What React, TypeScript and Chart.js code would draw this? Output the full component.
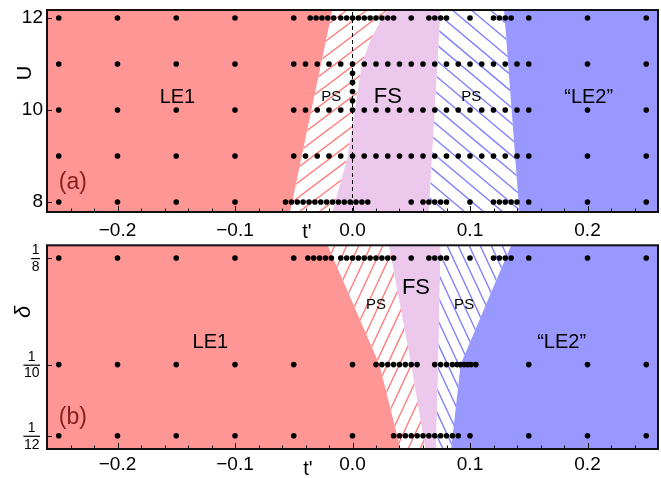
import React, { useEffect, useRef } from 'react';
import { Chart, registerables } from 'chart.js';

Chart.register(...registerables);

const FONT = '"Liberation Sans", Arial, Helvetica, sans-serif';

// ---------- shared x axis ----------
const tMin = -0.26;
const tMax = 0.26;
const xTicks = [-0.2, -0.1, 0.0, 0.1, 0.2];
const xTickLabels = ['\u22120.2', '\u22120.1', '0.0', '0.1', '0.2'];
const xMinorTicks = [-0.24, -0.22, -0.18, -0.16, -0.14, -0.12, -0.08, -0.06, -0.04, -0.02,
  0.02, 0.04, 0.06, 0.08, 0.12, 0.14, 0.16, 0.18, 0.22, 0.24];

// ---------- panel (a): U vs t' ----------
const aUMin = 7.783;
const aUMax = 12.174;
const aYTicks = [8, 10, 12];
const aYTickLabels = ['8', '10', '12'];

const aRow12 = [-0.25, -0.2, -0.15, -0.1, -0.05, -0.036, -0.031, -0.026, -0.021, -0.016,
  -0.01, -0.005, 0, 0.005, 0.01, 0.015, 0.02, 0.025, 0.03, 0.035,
  0.05, 0.065, 0.07, 0.075, 0.08, 0.1, 0.12, 0.125, 0.13, 0.135, 0.15, 0.2, 0.25];
const aRow11 = [-0.25, -0.2, -0.15, -0.1, -0.05, -0.04, -0.03, -0.02, -0.01, 0, 0.01, 0.02,
  0.03, 0.04, 0.05, 0.06, 0.07, 0.08, 0.09, 0.1, 0.11, 0.12, 0.13, 0.14, 0.15, 0.2, 0.25];
const aRow10 = [-0.25, -0.2, -0.15, -0.1, -0.05, -0.04, -0.03, -0.02, -0.01, 0, 0.01, 0.02,
  0.03, 0.04, 0.05, 0.06, 0.07, 0.08, 0.09, 0.1, 0.11, 0.12, 0.13, 0.14, 0.15, 0.2, 0.25];
const aRow9 = [-0.25, -0.2, -0.15, -0.1, -0.05, -0.04, -0.03, -0.02, -0.01, 0, 0.01, 0.02,
  0.03, 0.04, 0.05, 0.06, 0.07, 0.08, 0.09, 0.1, 0.11, 0.12, 0.13, 0.14, 0.15, 0.2, 0.25];
const aRow8 = [-0.25, -0.2, -0.15, -0.1, -0.057, -0.052, -0.047, -0.042, -0.037, -0.032,
  -0.027, -0.022, -0.017, -0.012, -0.007, -0.002, 0.003, 0.008, 0.013,
  0.05, 0.06, 0.065, 0.07, 0.075, 0.08, 0.1, 0.12, 0.125, 0.13, 0.135, 0.14, 0.15, 0.2, 0.25];
const aCol0U = [10.2, 10.4, 10.6, 10.8];
const aDashT = 0;

// phase boundaries [t', U]
const aLE1Edge = [[-0.053, 7.783], [-0.017, 12.174]];
const aFSLeft = [[-0.017, 7.783], [-0.004, 9], [0.002, 10], [0.008, 11], [0.015, 11.5], [0.025, 12], [0.03, 12.174]];
const aFSRight = [[0.065, 7.783], [0.075, 12.174]];
const aLE2Edge = [[0.142, 7.783], [0.129, 12.174]];

// ---------- panel (b): delta vs t' ----------
const bDMin = 0.08021;
const bDMax = 0.12798;
const bYTicks = [1 / 12, 1 / 10, 1 / 8];
const bYTickNum = ['1', '1', '1'];
const bYTickDen = ['12', '10', '8'];

const bRow8 = [-0.25, -0.2, -0.15, -0.1, -0.05, -0.038, -0.033, -0.028, -0.023, -0.018,
  -0.01, -0.005, 0, 0.005, 0.01, 0.015, 0.02, 0.025, 0.03, 0.035,
  0.05, 0.065, 0.07, 0.075, 0.08, 0.1, 0.12, 0.125, 0.13, 0.135, 0.15, 0.2, 0.25];
const bRow10 = [-0.25, -0.2, -0.15, -0.1, -0.05, 0, 0.02, 0.025, 0.03, 0.035,
  0.04, 0.045, 0.05, 0.055, 0.07, 0.075, 0.08, 0.085,
  0.089, 0.092, 0.095, 0.098, 0.101, 0.105, 0.15, 0.2, 0.25];
const bRow12 = [-0.25, -0.2, -0.15, -0.1, -0.05, 0, 0.035, 0.04, 0.045, 0.05, 0.055, 0.06,
  0.065, 0.07, 0.075, 0.08, 0.085, 0.09, 0.1, 0.15, 0.2, 0.25];

const bLE1Edge = [[0.041, 0.08021], [0.023, 0.1], [-0.021, 0.12798]];
const bFSLeft = [[0.062, 0.08021], [0.05, 0.1], [0.031, 0.12798]];
const bFSRight = [[0.071, 0.08021], [0.073, 0.1], [0.075, 0.12798]];
const bLE2Edge = [[0.084, 0.08021], [0.092, 0.1], [0.135, 0.12798]];

// ---------- styles ----------
const RED = 'rgb(255,150,150)';
const LILAC = 'rgb(237,200,237)';
const BLUE = 'rgb(152,152,255)';
const RED_HATCH = 'rgb(255,125,125)';
const BLUE_HATCH = 'rgb(128,128,255)';
const MAROON = 'rgb(135,30,30)';

type Pt = number[];
type Region = { left: Pt[] | 'min'; right: Pt[] | 'max'; fill: string; hatch?: { color: string; angle: number; step: number; dir: 1 | -1 } };
type Label = { text: string; t: number; v: number; size: number; color?: string };

function makePlugin(cfg: {
  regions: Region[];
  labels: Label[];
  yTitle: string;
  yTitleFont: string;
  yTitlePos: number[];
  tTitlePos: number[];
  yMajor: number[];
  fractions?: { values: number[]; num: string[]; den: string[] };
}) {
  return {
    id: 'phase',
    beforeDatasetsDraw(chart: any) {
      const { ctx, chartArea: a } = chart;
      const xs = chart.scales.x;
      const ys = chart.scales.y;
      const px = (p: Pt) => [xs.getPixelForValue(p[0]), ys.getPixelForValue(p[1])];
      ctx.save();
      ctx.beginPath();
      ctx.rect(a.left, a.top, a.right - a.left, a.bottom - a.top);
      ctx.clip();
      ctx.fillStyle = '#fff';
      ctx.fillRect(a.left, a.top, a.right - a.left, a.bottom - a.top);
      for (const r of cfg.regions) {
        const L = r.left === 'min' ? [[xs.min - 1, ys.min - 1], [xs.min - 1, ys.max + 1]] : r.left;
        const R = r.right === 'max' ? [[xs.max + 1, ys.min - 1], [xs.max + 1, ys.max + 1]] : r.right;
        const poly = [...L.map(px), ...R.slice().reverse().map(px)];
        ctx.save();
        ctx.beginPath();
        poly.forEach((p, i) => (i ? ctx.lineTo(p[0], p[1]) : ctx.moveTo(p[0], p[1])));
        ctx.closePath();
        ctx.fillStyle = r.fill;
        ctx.fill();
        if (r.hatch) {
          ctx.clip();
          const h = r.hatch;
          const H = a.bottom - a.top;
          const run = H / Math.tan((h.angle * Math.PI) / 180);
          ctx.beginPath();
          for (let x = a.left - run - h.step; x <= a.right + run + h.step; x += h.step) {
            if (h.dir === 1) {
              ctx.moveTo(x, a.bottom);
              ctx.lineTo(x + run, a.top);
            } else {
              ctx.moveTo(x, a.top);
              ctx.lineTo(x + run, a.bottom);
            }
          }
          ctx.strokeStyle = h.color;
          ctx.lineWidth = 1.4;
          ctx.stroke();
        }
        ctx.restore();
      }
      ctx.restore();
    },
    afterDatasetsDraw(chart: any) {
      const { ctx, chartArea: a } = chart;
      const xs = chart.scales.x;
      const ys = chart.scales.y;
      ctx.save();
      ctx.textAlign = 'center';
      ctx.textBaseline = 'middle';
      for (const l of cfg.labels) {
        ctx.font = `${l.size}px ${FONT}`;
        ctx.fillStyle = l.color || '#000';
        ctx.fillText(l.text, xs.getPixelForValue(l.t), ys.getPixelForValue(l.v));
      }
      // frame
      ctx.strokeStyle = '#111';
      ctx.lineWidth = 2;
      ctx.strokeRect(a.left, a.top, a.right - a.left, a.bottom - a.top);
      // ticks inside
      ctx.lineWidth = 1;
      ctx.beginPath();
      for (const v of xTicks) {
        const x = Math.round(xs.getPixelForValue(v)) + 0.5;
        ctx.moveTo(x, a.bottom);
        ctx.lineTo(x, a.bottom - 6);
      }
      for (const v of xMinorTicks) {
        const x = Math.round(xs.getPixelForValue(v)) + 0.5;
        ctx.moveTo(x, a.bottom);
        ctx.lineTo(x, a.bottom - 3.5);
      }
      for (const v of cfg.yMajor) {
        const y = Math.round(ys.getPixelForValue(v)) + 0.5;
        ctx.moveTo(a.left, y);
        ctx.lineTo(a.left + 5, y);
      }
      ctx.stroke();
      // axis titles
      ctx.fillStyle = '#000';
      ctx.font = `20px ${FONT}`;
      ctx.fillText("t'", cfg.tTitlePos[0], cfg.tTitlePos[1]);
      ctx.save();
      ctx.translate(cfg.yTitlePos[0], cfg.yTitlePos[1]);
      ctx.rotate(-Math.PI / 2);
      ctx.font = cfg.yTitleFont;
      ctx.fillText(cfg.yTitle, 0, 0);
      ctx.restore();
      // fraction tick labels
      if (cfg.fractions) {
        const f = cfg.fractions;
        ctx.font = `14px ${FONT}`;
        f.values.forEach((v, i) => {
          const y = ys.getPixelForValue(v);
          const w = ctx.measureText(f.den[i]).width + 1;
          const cx = a.left - 7 - w / 2;
          ctx.fillText(f.num[i], cx, y - 7.5);
          ctx.fillText(f.den[i], cx, y + 9);
          ctx.fillRect(cx - w / 2, y, w, 1.2);
        });
      }
      ctx.restore();
    },
  };
}

const dotStyle = { type: 'scatter', pointRadius: 2.8, pointHoverRadius: 2.8, backgroundColor: '#000', borderColor: '#000', borderWidth: 0, showLine: false };

function row(ts: number[], v: number) {
  return ts.map((t) => ({ x: t, y: v }));
}

function baseOptions(yMin: number, yMax: number, yTicks: number[], yLabels: string[] | null, xAxisH: number, padTop: number, xPad: number) {
  return {
    animation: false,
    responsive: false,
    devicePixelRatio: 1,
    events: [],
    layout: { padding: { top: padTop, right: 3, left: 0, bottom: 0 } },
    plugins: { legend: { display: false }, tooltip: { enabled: false } },
    scales: {
      x: {
        type: 'linear',
        min: tMin,
        max: tMax,
        grid: { display: false, drawTicks: false },
        border: { display: false },
        afterBuildTicks: (s: any) => { s.ticks = xTicks.map((v) => ({ value: v })); },
        afterFit: (s: any) => { s.height = xAxisH; s.paddingLeft = 0; s.paddingRight = 0; },
        ticks: {
          autoSkip: false,
          maxRotation: 0,
          padding: xPad,
          color: '#000',
          font: { family: FONT, size: 19 },
          callback: (_v: any, i: number) => xTickLabels[i],
        },
      },
      y: {
        type: 'linear',
        min: yMin,
        max: yMax,
        grid: { display: false, drawTicks: false },
        border: { display: false },
        afterBuildTicks: (s: any) => { s.ticks = yTicks.map((v) => ({ value: v })); },
        afterFit: (s: any) => { s.width = 47; s.paddingTop = 0; s.paddingBottom = 0; },
        ticks: {
          display: !!yLabels,
          autoSkip: false,
          padding: 4,
          color: '#000',
          font: { family: FONT, size: 19 },
          callback: (_v: any, i: number) => (yLabels ? yLabels[i] : ''),
        },
      },
    },
  };
}

export default function App() {
  const refA = useRef<HTMLCanvasElement>(null);
  const refB = useRef<HTMLCanvasElement>(null);

  useEffect(() => {
    const pluginA = makePlugin({
      regions: [
        { left: 'min', right: aLE1Edge, fill: RED },
        { left: aLE1Edge, right: aFSLeft, fill: '#fff', hatch: { color: RED_HATCH, angle: 37, step: 20, dir: 1 } },
        { left: aFSLeft, right: aFSRight, fill: LILAC },
        { left: aFSRight, right: aLE2Edge, fill: '#fff', hatch: { color: BLUE_HATCH, angle: 40, step: 19, dir: -1 } },
        { left: aLE2Edge, right: 'max', fill: BLUE },
      ],
      labels: [
        { text: 'LE1', t: -0.149, v: 10.28, size: 20 },
        { text: 'PS', t: -0.018, v: 10.28, size: 15 },
        { text: 'FS', t: 0.03, v: 10.28, size: 22 },
        { text: 'PS', t: 0.101, v: 10.28, size: 15 },
        { text: '\u201CLE2\u201D', t: 0.201, v: 10.28, size: 20 },
        { text: '(a)', t: -0.238, v: 8.41, size: 23, color: MAROON },
      ],
      yTitle: 'U',
      yTitleFont: `20px ${FONT}`,
      yTitlePos: [25, 73],
      tTitlePos: [307, 232],
      yMajor: aYTicks,
    });
    const pluginB = makePlugin({
      regions: [
        { left: 'min', right: bLE1Edge, fill: RED },
        { left: bLE1Edge, right: bFSLeft, fill: '#fff', hatch: { color: RED_HATCH, angle: 65, step: 12, dir: 1 } },
        { left: bFSLeft, right: bFSRight, fill: LILAC },
        { left: bFSRight, right: bLE2Edge, fill: '#fff', hatch: { color: BLUE_HATCH, angle: 65, step: 11, dir: -1 } },
        { left: bLE2Edge, right: 'max', fill: BLUE },
      ],
      labels: [
        { text: 'LE1', t: -0.121, v: 0.1051, size: 20 },
        { text: 'PS', t: 0.02, v: 0.114, size: 15 },
        { text: 'FS', t: 0.054, v: 0.118, size: 22 },
        { text: 'PS', t: 0.095, v: 0.114, size: 15 },
        { text: '\u201CLE2\u201D', t: 0.178, v: 0.1051, size: 20 },
        { text: '(b)', t: -0.238, v: 0.0876, size: 23, color: MAROON },
      ],
      yTitle: '\u03B4',
      yTitleFont: `italic 22px ${FONT}`,
      yTitlePos: [24, 72],
      tTitlePos: [308, 229],
      yMajor: bYTicks,
      fractions: { values: bYTicks, num: bYTickNum, den: bYTickDen },
    });

    const chartA = new Chart(refA.current as HTMLCanvasElement, {
      type: 'scatter',
      data: {
        datasets: [
          { type: 'line', data: [{ x: aDashT, y: aUMin }, { x: aDashT, y: aUMax }], borderColor: '#000', borderWidth: 1, borderDash: [4, 3], pointRadius: 0, fill: false } as any,
          { ...dotStyle, data: row(aRow12, 12) },
          { ...dotStyle, data: row(aRow11, 11) },
          { ...dotStyle, data: row(aRow10, 10) },
          { ...dotStyle, data: row(aRow9, 9) },
          { ...dotStyle, data: row(aRow8, 8) },
          { ...dotStyle, data: aCol0U.map((u) => ({ x: 0, y: u })) },
        ] as any,
      },
      options: baseOptions(aUMin, aUMax, aYTicks, aYTickLabels, 28, 10, 7) as any,
      plugins: [pluginA],
    });
    const chartB = new Chart(refB.current as HTMLCanvasElement, {
      type: 'scatter',
      data: {
        datasets: [
          { ...dotStyle, data: row(bRow8, 1 / 8) },
          { ...dotStyle, data: row(bRow10, 1 / 10) },
          { ...dotStyle, data: row(bRow12, 1 / 12) },
        ] as any,
      },
      options: baseOptions(bDMin, bDMax, bYTicks, null, 29, 5.3, 4) as any,
      plugins: [pluginB],
    });
    return () => {
      chartA.destroy();
      chartB.destroy();
    };
  }, []);

  return (
    <div style={{ position: 'absolute', left: 0, top: 0, width: 661, height: 478, background: '#fff' }}>
      <canvas ref={refA} width={661} height={240} style={{ display: 'block', width: 661, height: 240 }} />
      <canvas ref={refB} width={661} height={238} style={{ display: 'block', width: 661, height: 238 }} />
    </div>
  );
}
